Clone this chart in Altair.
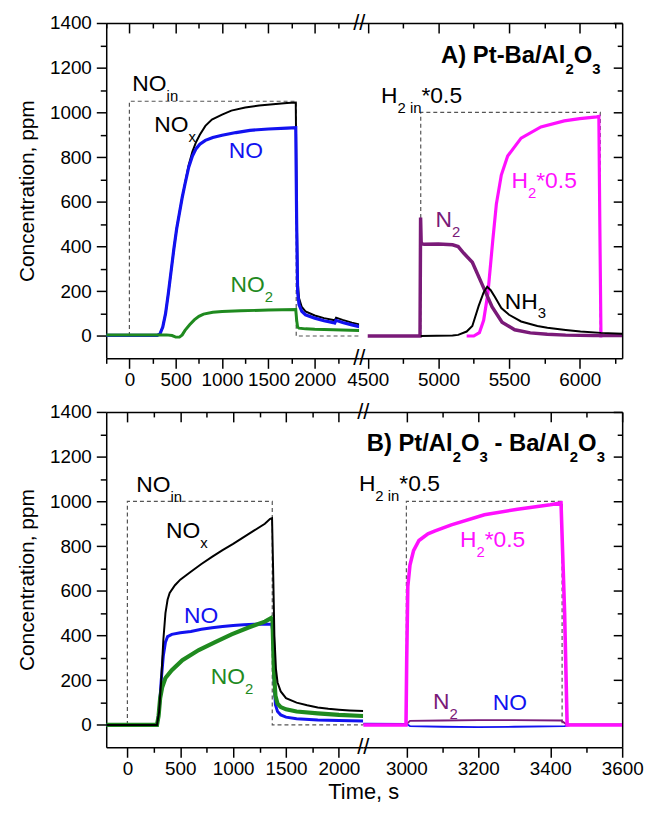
import altair as alt
import pandas as pd

FONT = "Liberation Sans"
YMIN, YMAX = -100, 1400
Y_MAJOR = [0, 200, 400, 600, 800, 1000, 1200, 1400]
Y_MINOR = [100, 300, 500, 700, 900, 1100, 1300]

# ---- x-axis segments (broken axis) ----
A_L_DOMAIN = [-250, 2480]
A_L_MAJOR = [0, 500, 1000, 1500, 2000]
A_L_MINOR = [-250, 250, 750, 1250, 1750, 2250]
A_R_DOMAIN = [4440, 6300]
A_R_MAJOR = [4500, 5000, 5500, 6000]
A_R_MINOR = [4750, 5250, 5750, 6250]
B_L_DOMAIN = [-200, 2230]
B_L_MAJOR = [0, 500, 1000, 1500, 2000]
B_L_MINOR = [250, 750, 1250, 1750]
B_R_DOMAIN = [2880, 3600]
B_R_MAJOR = [3000, 3200, 3400, 3600]
B_R_MINOR = [3100, 3300, 3500]

# ---- Panel A, left segment ----
A_NOIN_T = [0, 0, 1800, 1800, 2480]
A_NOIN_C = [0, 1050, 1050, 0, 0]
A_NOX_T = [-250, 300, 330, 360, 390, 420, 450, 480, 510, 540, 570, 600, 640, 680, 720, 760, 820, 890, 1000, 1100,
           1250, 1400, 1550, 1700, 1795, 1805, 1815, 1830, 1860, 1900, 2000, 2100, 2200, 2215, 2230, 2300, 2400, 2480]
A_NOX_C = [3, 3, 10, 40, 100, 190, 290, 390, 480, 550, 620, 682, 765, 825, 868, 900, 940, 968, 990, 1008,
           1022, 1031, 1037, 1042, 1044, 600, 250, 170, 130, 110, 92, 80, 72, 70, 82, 72, 60, 52]
A_NO_T = [-250, 300, 330, 360, 390, 420, 450, 480, 510, 540, 570, 600, 640, 680, 720, 760, 820, 900, 1000, 1150,
          1300, 1500, 1700, 1795, 1805, 1815, 1830, 1860, 1900, 2000, 2100, 2200, 2215, 2230, 2300, 2400, 2480]
A_NO_C = [3, 3, 10, 40, 100, 190, 290, 390, 480, 550, 620, 680, 755, 805, 838, 858, 875, 888, 898, 910,
          920, 926, 930, 932, 500, 200, 140, 110, 95, 80, 68, 60, 58, 70, 60, 50, 42]
A_NO2_T = [-250, 400, 460, 500, 540, 570, 600, 650, 700, 750, 800, 900, 1000, 1200, 1500, 1795, 1805, 1815, 1830,
           1900, 2000, 2200, 2480]
A_NO2_C = [5, 5, 2, -5, -5, 5, 25, 50, 72, 88, 98, 106, 110, 113, 116, 118, 70, 40, 35, 32, 30, 28, 25]

# ---- Panel A, right segment ----
A_H2IN_T = [4875, 4875, 6145, 6145]
A_H2IN_C = [0, 1000, 1000, 0]
A_N2_T = [4500, 4870, 4874, 4878, 4885, 4900, 5000, 5100, 5140, 5180, 5240, 5310, 5380, 5450, 5540, 5650, 5770,
          5900, 6100, 6300]
A_N2_C = [0, 0, 530, 420, 412, 410, 412, 408, 400, 370, 330, 230, 130, 62, 28, 14, 8, 4, 2, 2]
A_NH3_T = [4875, 5100, 5140, 5200, 5240, 5285, 5320, 5345, 5370, 5400, 5445, 5500, 5585, 5700, 5771, 5900, 6005,
           6150, 6300]
A_NH3_C = [0, 2, 5, 20, 45, 135, 195, 220, 205, 175, 125, 95, 65, 45, 37, 27, 20, 14, 10]
A_H2_T = [5200, 5250, 5290, 5320, 5350, 5385, 5410, 5445, 5490, 5585, 5725, 5890, 6000, 6120, 6135, 6142, 6150, 6160]
A_H2_C = [0, 0, 15, 70, 190, 430, 590, 720, 805, 885, 935, 962, 972, 980, 982, 500, 0, 0]

# ---- Panel B, left segment ----
B_NOIN_T = [0, 0, 1370, 1370, 2230]
B_NOIN_C = [0, 1000, 1000, 0, 0]
B_NOX_T = [-200, 280, 300, 320, 340, 360, 380, 400, 450, 500, 600, 700, 800, 900, 1000, 1100, 1200, 1300, 1350, 1368,
           1378, 1390, 1405, 1420, 1450, 1500, 1600, 1700, 1800, 1900, 2000, 2100, 2230]
B_NOX_C = [0, 0, 60, 200, 380, 500, 560, 590, 625, 650, 685, 720, 752, 782, 810, 840, 870, 900, 922, 925,
           700, 400, 250, 190, 150, 120, 100, 88, 78, 72, 68, 65, 62]
B_NO_T = [-200, 280, 300, 320, 340, 360, 380, 420, 500, 600, 700, 800, 900, 1000, 1100, 1200, 1300, 1365, 1375, 1388,
          1400, 1420, 1450, 1500, 1600, 1800, 2000, 2230]
B_NO_C = [0, 0, 60, 200, 310, 370, 395, 405, 412, 418, 428, 435, 440, 445, 448, 450, 452, 450, 420, 200,
          90, 60, 45, 35, 28, 22, 20, 18]
B_NO2_T = [-200, 280, 295, 310, 330, 360, 420, 520, 675, 830, 985, 1140, 1300, 1360, 1372, 1385, 1400, 1420, 1450,
           1500, 1600, 1800, 2000, 2230]
B_NO2_C = [0, 0, 40, 120, 170, 210, 245, 290, 335, 370, 405, 435, 462, 478, 470, 250, 130, 95, 80, 70, 60, 52, 45, 40]

# ---- Panel B, right segment ----
B_H2IN_T = [3000, 3000, 3433, 3433]
B_H2IN_C = [0, 1000, 1000, 0]
B_H2_T = [2880, 2999, 3001, 3004, 3010, 3020, 3035, 3060, 3080, 3125, 3217, 3309, 3400, 3430, 3440, 3447, 3600]
B_H2_C = [0, 0, 300, 620, 715, 780, 825, 855, 868, 895, 940, 965, 985, 993, 500, 0, 0]
B_N2_T = [2880, 3000, 3010, 3100, 3200, 3300, 3430, 3445, 3600]
B_N2_C = [3, 3, 18, 20, 22, 22, 20, 3, 3]
B_NOR_T = [2880, 3000, 3010, 3100, 3200, 3300, 3440, 3460, 3600]
B_NOR_C = [6, 5, -5, -8, -10, -8, -5, 0, 0]

BLACK = "#000000"
BLUE = "#1212f0"
GREEN = "#1f8a1f"
PURPLE = "#7a1a78"
MAGENTA = "#ff10ff"
DASH = "#555555"

# ---- annotations: (parts, x, y, color); parts as (text, is_subscript) ----
A_L_NOTES = [
    ([("NO", 0), ("in", 1)], 32, 1096, BLACK),
    ([("NO", 0), ("x", 1)], 268, 912, BLACK),
    ([("NO", 0)], 1071, 794, BLUE),
    ([("NO", 0), ("2", 1)], 1092, 197, GREEN),
]
A_R_NOTES = [
    ([("H", 0), ("2 in", 1), ("*0.5", 0)], 4594, 1044, BLACK),
    ([("N", 0), ("2", 1)], 4979, 487, PURPLE),
    ([("H", 0), ("2", 1), ("*0.5", 0)], 5517, 663, MAGENTA),
    ([("NH", 0), ("3", 1)], 5469, 123, BLACK),
]
A_TITLE = ([("A) Pt-Ba/Al", 0), ("2", 1), ("O", 0), ("3", 1)], 6147, 1219)
B_L_NOTES = [
    ([("NO", 0), ("in", 1)], 84, 1040, BLACK),
    ([("NO", 0), ("x", 1)], 366, 837, BLACK),
    ([("NO", 0)], 535, 454, BLUE),
    ([("NO", 0), ("2", 1)], 788, 181, GREEN),
]
B_R_NOTES = [
    ([("H", 0), ("2 in", 1), ("*0.5", 0)], 2868, 1048, BLACK),
    ([("H", 0), ("2", 1), ("*0.5", 0)], 3149, 797, MAGENTA),
    ([("N", 0), ("2", 1)], 3074, 70, PURPLE),
    ([("NO", 0)], 3240, 66, BLUE),
]
B_TITLE = ([("B) Pt/Al", 0), ("2", 1), ("O", 0), ("3", 1), (" - Ba/Al", 0), ("2", 1), ("O", 0), ("3", 1)], 3552, 1225)

W_REG = {'N': .722, 'O': .778, 'H': .722, 'i': .222, 'n': .556, 'x': .5, '*': .389, '.': .278, ' ': .278}
W_BOLD = {'A': .722, ')': .333, ' ': .278, 'P': .667, 't': .333, '-': .333, 'B': .722, 'a': .556, '/': .278,
          'l': .278, 'O': .778}


def text_width(s, size, bold):
    tab = W_BOLD if bold else W_REG
    return sum(tab.get(ch, .556) for ch in s) * size


AX = dict(grid=False, domainColor="black", domainWidth=1.5, tickColor="black", tickWidth=1.5,
          labelFont=FONT, labelFontSize=19, labelColor="black", titleFont=FONT, titleColor="black",
          titleFontWeight="normal")


def make_axis(orient, values, size, labels=False, offset=None, domain=True, **extra):
    kw = dict(AX)
    kw.update(orient=orient, values=values, tickSize=size, labels=labels, domain=domain, title=None)
    if offset is not None:
        kw["offset"] = offset
    if labels:
        kw.update(format="d", labelFlush=False, labelOverlap=False, labelPadding=2)
    kw.update(extra)
    return alt.Axis(**kw)


def xy(xs, ys, xaxis=None, yaxis=None):
    return dict(x=alt.X("t:Q", scale=xs, axis=xaxis), y=alt.Y("c:Q", scale=ys, axis=yaxis))


def point_df(x, y):
    return pd.DataFrame({"t": [x], "c": [y]})


def line_layer(t, c, color, width, xs, ys, dash=None):
    df = pd.DataFrame({"t": t, "c": c, "i": list(range(len(t)))})
    mk = dict(color=color, strokeWidth=width, clip=True)
    if dash:
        mk["strokeDash"] = dash
    return alt.Chart(df).mark_line(**mk).encode(order="i:Q", **xy(xs, ys))


def rich_label(parts, x, y, color, xs, ys, size=23, bold=False, align="left"):
    sub = round(size * 0.64)
    widths = [text_width(p, sub if s else size, bold) for p, s in parts]
    cur = -sum(widths) if align == "right" else 0
    out = []
    for (p, s), w in zip(parts, widths):
        fs = sub if s else size
        lead = len(p) - len(p.lstrip(" "))
        shown = p.strip(" ")
        out.append(alt.Chart(point_df(x, y)).mark_text(
            text=shown, align="left", baseline="alphabetic",
            dx=cur + text_width(" " * lead, fs, bold), dy=(round(size * 0.45) if s else 0),
            fontSize=fs, font=FONT, fontWeight=("bold" if bold else "normal"),
            color=color).encode(**xy(xs, ys)))
        cur += w
    return out


def segment(dom, major, minor, W, H, lines, notes, side, title=None, breaks=False, xtitle=None):
    xs = alt.Scale(domain=dom, nice=False, zero=False)
    ys = alt.Scale(domain=[YMIN, YMAX], nice=False, zero=False)
    if side == "left":
        y1 = make_axis("left", Y_MAJOR, 10, labels=True, title="Concentration, ppm", titleFontSize=21,
                       titlePadding=12, labelPadding=5)
        y2 = make_axis("left", Y_MINOR, 6, domain=False)
    else:
        y1 = make_axis("left", Y_MAJOR, 9, offset=-W)
        y2 = make_axis("left", Y_MINOR, 5, offset=-W, domain=False)
    xextra = {}
    if xtitle:
        xextra = dict(title=xtitle, titleX=0, titleY=52, titleAlign="center", titleBaseline="alphabetic",
                      titleFontSize=22)
    x1 = make_axis("bottom", major, 10, labels=True, **xextra)
    x2 = make_axis("bottom", minor, 5, domain=False)
    x3 = make_axis("bottom", major, 10, offset=-H)
    x4 = make_axis("bottom", minor, 5, offset=-H, domain=False)
    anchor = point_df(dom[0], 0)
    layers = [
        alt.Chart(anchor).mark_point(opacity=0).encode(**xy(xs, ys, x1, y1)),
        alt.Chart(anchor).mark_point(opacity=0).encode(**xy(xs, ys, x2, y2)),
        alt.Chart(anchor).mark_point(opacity=0).encode(**xy(xs, ys, x3)),
        alt.Chart(anchor).mark_point(opacity=0).encode(**xy(xs, ys, x4)),
    ]
    for t, c, color, width, dash in lines:
        layers.append(line_layer(t, c, color, width, xs, ys, dash))
    for parts, x, y, color in notes:
        layers += rich_label(parts, x, y, color, xs, ys)
    if title:
        parts, x, y = title
        layers += rich_label(parts, x, y, BLACK, xs, ys, size=24, bold=True, align="right")
    if breaks:
        for yy in (YMIN, YMAX):
            layers.append(alt.Chart(point_df(dom[1], yy)).mark_text(
                text="//", fontSize=22, font=FONT, align="center", baseline="middle", color="black"
            ).encode(**xy(xs, ys)))
    return alt.layer(*layers).resolve_axis(x="independent", y="independent").properties(width=W, height=H)


H = 338
dashed = [4, 3]
segA_L = segment(A_L_DOMAIN, A_L_MAJOR, A_L_MINOR, 255, H, [
    (A_NOIN_T, A_NOIN_C, DASH, 1.2, dashed),
    (A_NOX_T, A_NOX_C, BLACK, 2, None),
    (A_NO_T, A_NO_C, BLUE, 3.2, None),
    (A_NO2_T, A_NO2_C, GREEN, 3, None),
], A_L_NOTES, "left", breaks=True)
segA_R = segment(A_R_DOMAIN, A_R_MAJOR, A_R_MINOR, 265, H, [
    (A_H2IN_T, A_H2IN_C, DASH, 1.2, dashed),
    (A_H2_T, A_H2_C, MAGENTA, 3.2, None),
    (A_N2_T, A_N2_C, PURPLE, 3.5, None),
    (A_NH3_T, A_NH3_C, BLACK, 2, None),
], A_R_NOTES, "right", title=A_TITLE)
segB_L = segment(B_L_DOMAIN, B_L_MAJOR, B_L_MINOR, 259, H, [
    (B_NOIN_T, B_NOIN_C, DASH, 1.2, dashed),
    (B_NO_T, B_NO_C, BLUE, 3, None),
    (B_NO2_T, B_NO2_C, GREEN, 4.2, None),
    (B_NOX_T, B_NOX_C, BLACK, 2, None),
], B_L_NOTES, "left", breaks=True)
segB_R = segment(B_R_DOMAIN, B_R_MAJOR, B_R_MINOR, 261, H, [
    (B_H2IN_T, B_H2IN_C, DASH, 1.2, dashed),
    (B_NOR_T, B_NOR_C, BLUE, 1.8, None),
    (B_N2_T, B_N2_C, PURPLE, 1.8, None),
    (B_H2_T, B_H2_C, MAGENTA, 3.6, None),
], B_R_NOTES, "right", title=B_TITLE, xtitle="Time, s")

panelA = alt.hconcat(segA_L, segA_R, spacing=0, bounds="flush")
panelB = alt.hconcat(segB_L, segB_R, spacing=0, bounds="flush")
chart = alt.vconcat(panelA, panelB, spacing=12).configure_view(stroke=None).properties(
    padding={"left": 8, "top": 1, "right": 0, "bottom": -3}, background="white")

chart.save("out.html", embed_options={"renderer": "svg", "actions": False})
